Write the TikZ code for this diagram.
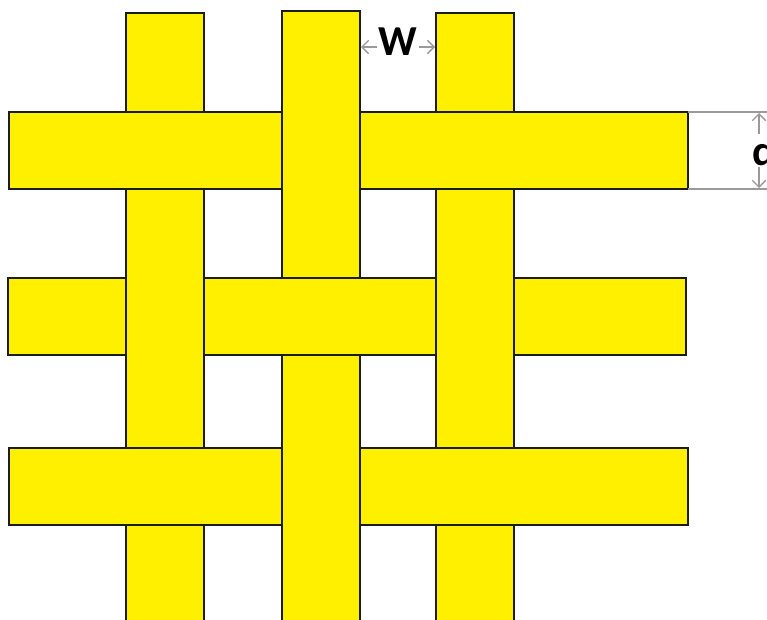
\documentclass[tikz,border=0pt]{standalone}
\usepackage{fontspec}
\setsansfont{Carlito}
\usetikzlibrary{arrows.meta}
\definecolor{strandyellow}{HTML}{FFF000}
\definecolor{strandedge}{HTML}{1C1C1C}
\definecolor{dimgray}{HTML}{9A9A9A}
\tikzset{
  strand/.style={fill=strandyellow, draw=strandedge, line width=1.4pt},
  dimline/.style={draw=dimgray, line width=1pt},
  dimarrow/.style={dimline, {Straight Barb[length=5pt,width=10pt]}-{Straight Barb[length=5pt,width=10pt]}},
  dimlabel/.style={font=\fontsize{32}{36}\sffamily\bfseries, text=black, fill=white, inner sep=1pt},
}

\begin{document}
\begin{tikzpicture}[x=0.75pt,y=-0.75pt]
  \useasboundingbox (0,0) rectangle (767,619);
  \begin{scope}
    \clip (0,0) rectangle (767,619);
    % warp strands 1 and 3, under the top and bottom weft
    \foreach \xl in {126,436}
      \draw[strand] (\xl,13) rectangle ++(78,620);
    % weft strands 1 and 3
    \foreach \yt in {112,448}
      \draw[strand] (9,\yt) rectangle (688,\yt+77);
    % warp strand 2 goes over them
    \draw[strand] (282,11) rectangle (360,630);
    % weft strand 2, cut where warps 1 and 3 lie on top
    \draw[strand] (8,278) rectangle (126,355);
    \draw[strand] (204,278) rectangle (436,355);
    \draw[strand] (514,278) rectangle (686,355);
  \end{scope}
  % gap W
  \coordinate (wl) at (361,47);
  \coordinate (wr) at (435,47);
  \draw[dimarrow] (wl) -- (wr);
  \node[dimlabel] (wlab) at (398,42) {W};
  % width d
  \coordinate (dext1) at (688,112);
  \coordinate (dext2) at (688,189);
  \coordinate (dtop) at (759,113);
  \coordinate (dbot) at (759,188);
  \draw[dimline] (dext1) -- (770,112);
  \draw[dimline] (dext2) -- (770,189);
  \draw[dimarrow] (dtop) -- (dbot);
  \node[dimlabel, anchor=base west] (dlab) at (751,165) {d};
\end{tikzpicture}
\end{document}
